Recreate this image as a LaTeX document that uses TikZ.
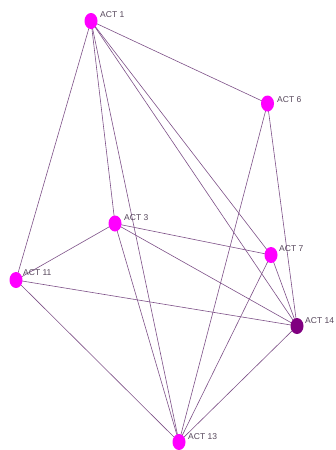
\documentclass[tikz,border=0pt]{standalone}
\usepackage{fontspec}
\setmainfont{Liberation Sans}
\usetikzlibrary{shapes.geometric}
\definecolor{nodemag}{RGB}{255,0,255}
\definecolor{nodedark}{RGB}{128,0,128}
\definecolor{edgecol}{RGB}{125,80,135}
\definecolor{labcol}{RGB}{85,70,90}
\begin{document}
\begin{tikzpicture}[x=1pt,y=-1pt,
  actnode/.style={ellipse,fill=nodemag,draw=none,minimum width=13pt,minimum height=16pt,inner sep=0pt},
  actdark/.style={actnode,fill=nodedark},
  actlabel/.style={anchor=west,font=\fontsize{8.5}{9}\selectfont,text=labcol,inner sep=0pt},
  edge/.style={draw=edgecol,line width=0.6pt}]
\useasboundingbox (0,0) rectangle (336,450);
\coordinate (a1) at (91,21);
\coordinate (a6) at (267.5,103.5);
\coordinate (a3) at (115,223.5);
\coordinate (a11) at (16,280);
\coordinate (a7) at (271,255);
\coordinate (a14) at (297,326);
\coordinate (a13) at (179,442);
\draw[edge] (a1) -- (a6);
\draw[edge] (a1) -- (a11);
\draw[edge] (a1) -- (a3);
\draw[edge] (a1) -- (a13);
\draw[edge] (a1) -- (a7);
\draw[edge] (a1) -- (a14);
\draw[edge] (a6) -- (a14);
\draw[edge] (a6) -- (a13);
\draw[edge] (a3) -- (a11);
\draw[edge] (a3) -- (a7);
\draw[edge] (a3) -- (a14);
\draw[edge] (a3) -- (a13);
\draw[edge] (a11) -- (a14);
\draw[edge] (a11) -- (a13);
\draw[edge] (a7) -- (a13);
\draw[edge] (a7) -- (a14);
\draw[edge] (a14) -- (a13);
\node[actnode] (n1) at (a1) {};
\node[actnode] (n6) at (a6) {};
\node[actnode] (n3) at (a3) {};
\node[actnode] (n11) at (a11) {};
\node[actnode] (n7) at (a7) {};
\node[actdark] (n14) at (a14) {};
\node[actnode] (n13) at (a13) {};
\node[actlabel] (l1) at (100,15) {ACT 1};
\node[actlabel] (l6) at (277,100) {ACT 6};
\node[actlabel] (l3) at (124,218) {ACT 3};
\node[actlabel] (l11) at (23,273) {ACT 11};
\node[actlabel] (l7) at (279,249) {ACT 7};
\node[actlabel] (l14) at (305,321) {ACT 14};
\node[actlabel] (l13) at (188,437) {ACT 13};
\end{tikzpicture}
\end{document}
